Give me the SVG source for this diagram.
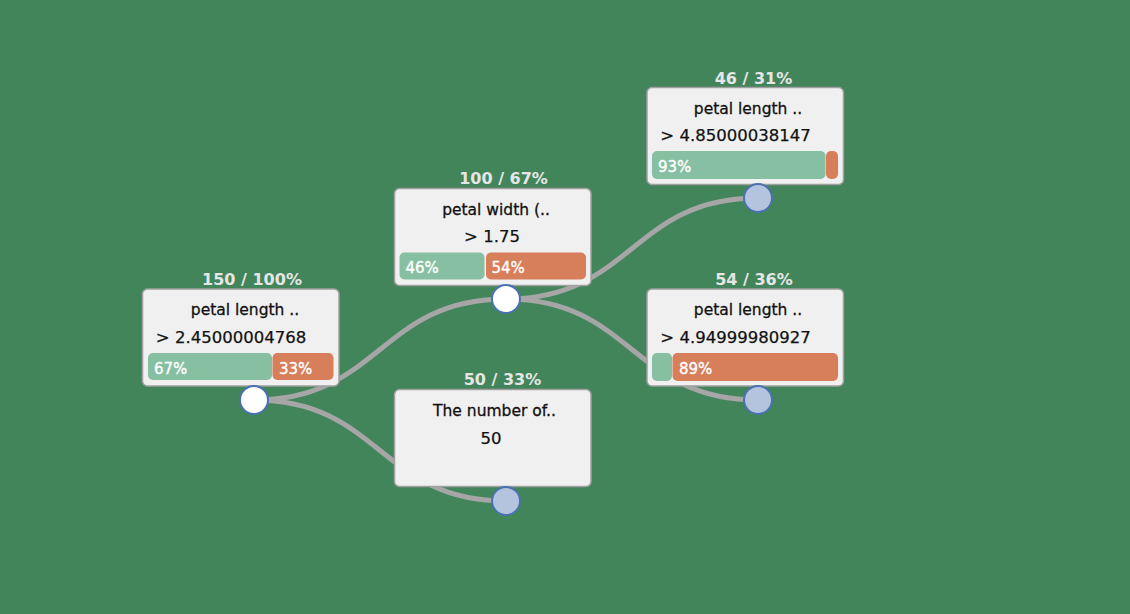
<svg xmlns="http://www.w3.org/2000/svg" width="1130" height="614" viewBox="0 0 1130 614">
<style>
.bg{fill:#42855a}
.link{fill:none;stroke:#a6a6a6;stroke-width:5}
.box{fill:#f0f0f0;stroke:#a0a0a0;stroke-width:1.5}
.cnt{font-family:"DejaVu Sans",sans-serif;font-size:16px;font-weight:bold;fill:#e6e6e6;text-anchor:middle}
.ttl{font-family:"DejaVu Sans",sans-serif;font-size:15.5px;fill:#111;stroke:#111;stroke-width:0.3;text-anchor:middle}
.val{font-family:"DejaVu Sans",sans-serif;font-size:16.5px;fill:#111;stroke:#111;stroke-width:0.25;text-anchor:middle}
.g{fill:#86bfa2}
.o{fill:#d77e5a}
.pct{font-family:"DejaVu Sans",sans-serif;font-size:15px;fill:#fff;stroke:#fff;stroke-width:0.35}
.c0{fill:#fff;stroke:#4a72b0;stroke-width:2}
.c1{fill:#b4c3de;stroke:#4a72b0;stroke-width:2}
</style>
<rect class="bg" x="0" y="0" width="1130" height="614"/>
<g id="connectors">
<path class="link" d="M254,400 C380,400 380,299 506,299"/>
<path class="link" d="M254,400 C380,400 380,501 506,501"/>
<path class="link" d="M506,299 C632,299 632,198 758,198"/>
<path class="link" d="M506,299 C632,299 632,400 758,400"/>
</g>
<g id="node1">
<text class="cnt" x="252" y="285">150 / 100%</text>
<rect class="box" x="142.5" y="289" width="196.5" height="97" rx="5"/>
<text class="ttl" x="245" y="315">petal length ..</text>
<text class="val" x="231" y="343">&gt; 2.45000004768</text>
<rect class="g" x="148" y="353" width="124" height="27" rx="5"/>
<rect class="o" x="272.5" y="353" width="61" height="27" rx="5"/>
<text class="pct" x="154" y="373.5">67%</text>
<text class="pct" x="279" y="373.5">33%</text>
<circle class="c0" cx="254" cy="400" r="14"/>
</g>
<g id="node2">
<text class="cnt" x="503.5" y="184">100 / 67%</text>
<rect class="box" x="394.5" y="188.5" width="196.5" height="97" rx="5"/>
<text class="ttl" x="496" y="214.5">petal width (..</text>
<text class="val" x="492" y="242">&gt; 1.75</text>
<rect class="g" x="399.5" y="252.5" width="85" height="27" rx="5"/>
<rect class="o" x="486" y="252.5" width="100" height="27" rx="5"/>
<text class="pct" x="405.5" y="273">46%</text>
<text class="pct" x="491.5" y="273">54%</text>
<circle class="c0" cx="506" cy="299" r="14"/>
</g>
<g id="node3">
<text class="cnt" x="753.5" y="83.5">46 / 31%</text>
<rect class="box" x="647" y="87.5" width="196.5" height="97" rx="5"/>
<text class="ttl" x="748" y="113.5">petal length ..</text>
<text class="val" x="735.5" y="141">&gt; 4.85000038147</text>
<rect class="g" x="652" y="151" width="173.5" height="28" rx="5"/>
<rect class="o" x="826" y="151" width="12" height="28" rx="5"/>
<text class="pct" x="658" y="171.5">93%</text>
<circle class="c1" cx="758" cy="198" r="14"/>
</g>
<g id="node4">
<text class="cnt" x="754" y="284.5">54 / 36%</text>
<rect class="box" x="647" y="289" width="196.5" height="97" rx="5"/>
<text class="ttl" x="748" y="315">petal length ..</text>
<text class="val" x="735.5" y="343">&gt; 4.94999980927</text>
<rect class="g" x="652" y="353" width="20" height="28" rx="5"/>
<rect class="o" x="672.5" y="353" width="165.5" height="28" rx="5"/>
<text class="pct" x="679" y="373.5">89%</text>
<circle class="c1" cx="758" cy="400" r="14"/>
</g>
<g id="node5">
<text class="cnt" x="502.5" y="385">50 / 33%</text>
<rect class="box" x="394.5" y="389.5" width="196.5" height="97" rx="5"/>
<text class="ttl" x="494.5" y="415.5">The number of..</text>
<text class="val" x="491" y="444">50</text>
<circle class="c1" cx="506" cy="501" r="14"/>
</g>
</svg>
